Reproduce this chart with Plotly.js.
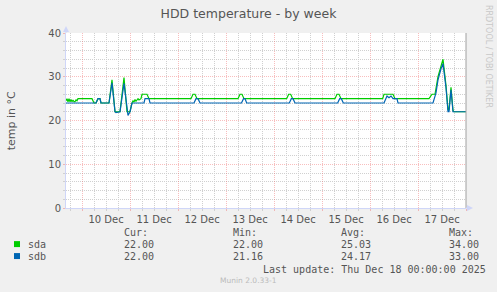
<!DOCTYPE html>
<html>
<head>
<meta charset="utf-8">
<script src="https://cdn.plot.ly/plotly-3.0.1.min.js"></script>
<style>
  html, body { margin: 0; padding: 0; background: #F0F0F0; }
  #chart { width: 497px; height: 292px; }
</style>
</head>
<body>
<div id="chart"></div>
<script>
// ---- data ----
const sdaTimes = [
  '2025-12-09 16:00','2025-12-09 16:30','2025-12-09 17:00','2025-12-09 17:30','2025-12-09 18:00',
  '2025-12-09 18:30','2025-12-09 19:00','2025-12-09 19:30','2025-12-09 20:00','2025-12-09 20:30',
  '2025-12-09 21:00','2025-12-09 21:30','2025-12-09 22:00',
  '2025-12-10 05:00','2025-12-10 06:00','2025-12-10 07:00','2025-12-10 08:00','2025-12-10 09:00',
  '2025-12-10 09:30','2025-12-10 13:30','2025-12-10 15:00','2025-12-10 16:30','2025-12-10 19:00',
  '2025-12-10 21:00','2025-12-10 22:30','2025-12-11 00:00','2025-12-11 01:00','2025-12-11 01:30',
  '2025-12-11 02:00','2025-12-11 02:30','2025-12-11 03:00','2025-12-11 04:00','2025-12-11 04:30',
  '2025-12-11 05:30','2025-12-11 06:00','2025-12-11 08:30','2025-12-11 09:30',
  '2025-12-12 06:30','2025-12-12 07:30','2025-12-12 08:30','2025-12-12 09:30',
  '2025-12-13 06:00','2025-12-13 07:00','2025-12-13 08:00','2025-12-13 09:00',
  '2025-12-14 06:20','2025-12-14 07:20','2025-12-14 08:20','2025-12-14 09:20',
  '2025-12-15 06:30','2025-12-15 07:30','2025-12-15 08:30','2025-12-15 09:30',
  '2025-12-16 06:20','2025-12-16 07:00','2025-12-16 11:30','2025-12-16 12:30',
  '2025-12-17 05:30','2025-12-17 07:00','2025-12-17 08:30','2025-12-17 10:00','2025-12-17 11:30',
  '2025-12-17 12:30','2025-12-17 14:00','2025-12-17 15:00','2025-12-17 15:30','2025-12-17 16:30',
  '2025-12-17 17:30','2025-12-17 18:00','2025-12-18 00:00'
];
const sdaValues = [
  24.5, 25, 24.3, 25, 24.3,
  24.8, 24.3, 24.7, 24.3, 24.3,
  24.7, 24.5, 25,
  25, 24, 24, 25, 25,
  24, 24, 29.3, 22, 22,
  29.8, 22, 22, 24, 24.5,
  24.2, 24.8, 24.4, 25, 24.7,
  25, 26, 26, 25,
  25, 26, 26, 25,
  25, 26, 26, 25,
  25, 26, 26, 25,
  25, 26, 26, 25,
  25, 26, 26, 25,
  25, 26, 26, 30, 32.4,
  34, 28, 22.5, 22.5, 27.6,
  22.3, 22, 22
];
const sdbTimes = [
  '2025-12-09 16:00','2025-12-10 07:00','2025-12-10 08:00','2025-12-10 09:00','2025-12-10 09:30',
  '2025-12-10 13:30','2025-12-10 15:00','2025-12-10 16:30','2025-12-10 17:00','2025-12-10 19:00',
  '2025-12-10 21:00','2025-12-10 22:30','2025-12-10 23:00','2025-12-11 00:00','2025-12-11 01:00',
  '2025-12-11 07:00','2025-12-11 07:30','2025-12-11 09:30','2025-12-11 10:00',
  '2025-12-12 08:00','2025-12-12 09:00','2025-12-12 10:00','2025-12-12 11:00',
  '2025-12-13 07:45','2025-12-13 08:45','2025-12-13 09:30','2025-12-13 10:20',
  '2025-12-14 07:40','2025-12-14 08:40','2025-12-14 09:30','2025-12-14 10:30',
  '2025-12-15 07:50','2025-12-15 08:50','2025-12-15 09:40','2025-12-15 10:40',
  '2025-12-16 07:00','2025-12-16 08:30','2025-12-16 09:30','2025-12-16 10:30','2025-12-16 11:30',
  '2025-12-16 13:30','2025-12-16 14:00',
  '2025-12-17 07:30','2025-12-17 09:00','2025-12-17 10:00','2025-12-17 11:30','2025-12-17 12:30',
  '2025-12-17 14:00','2025-12-17 15:00','2025-12-17 15:30','2025-12-17 16:30','2025-12-17 17:30',
  '2025-12-18 00:00'
];
const sdbValues = [
  24, 24, 25, 25, 24,
  24, 28.6, 22, 21.8, 22,
  28.5, 22, 21.16, 22, 24,
  24, 25, 25, 24,
  24, 25, 25, 24,
  24, 25, 25, 24,
  24, 25, 25, 24,
  24, 25, 25, 24,
  24, 25.6, 25.2, 25.6, 25,
  25, 24,
  24, 26.3, 29.3, 31.8, 33,
  27.5, 22, 22, 27, 22,
  22
];
const seriesNames = ['sda', 'sdb'];
const seriesColors = ['#00CC00', '#0066B3'];
const statHeaders = ['Cur:', 'Min:', 'Avg:', 'Max:'];
const statsSda = ['22.00', '22.00', '25.03', '34.00'];
const statsSdb = ['22.00', '21.16', '24.17', '33.00'];
const titleText = 'HDD temperature - by week';
const yTitle = 'temp in °C';
const lastUpdate = 'Last update: Thu Dec 18 00:00:00 2025';
const footer = 'Munin 2.0.33-1';
const watermark = 'RRDTOOL / TOBI OETIKER';

// ---- layout helpers (pixel -> paper) ----
const W = 497, H = 292;
const L = 66, R = 31, T = 33, B = 83.5;
const PW = W - L - R, PH = H - T - B;
const px = x => (x - L) / PW;
const py = y => (H - B - y) / PH;

const traces = [
  {x: sdaTimes, y: sdaValues, name: seriesNames[0], type: 'scatter', mode: 'lines',
   line: {color: seriesColors[0], width: 1.2}, hoverinfo: 'skip'},
  {x: sdbTimes, y: sdbValues, name: seriesNames[1], type: 'scatter', mode: 'lines',
   line: {color: seriesColors[1], width: 1.2}, hoverinfo: 'skip'}
];

const txtFont = {family: 'DejaVu Sans Mono', size: 10, color: '#555555'};
const ann = [];
function addText(text, x, y, opts) {
  ann.push(Object.assign({text: text, x: px(x), y: py(y), xref: 'paper', yref: 'paper',
    showarrow: false, xanchor: 'left', yanchor: 'middle', font: txtFont, borderpad: 0}, opts || {}));
}
const colX = [122.7, 231.7, 340, 447.7];
statHeaders.forEach((h, i) => addText(h, colX[i], 233.3));
statsSda.forEach((v, i) => addText(v, colX[i], 245.3));
statsSdb.forEach((v, i) => addText(v, colX[i], 257.3));
addText(seriesNames[0], 26.7, 245.3);
addText(seriesNames[1], 26.7, 257.3);
addText(lastUpdate, 261.7, 269.7);
addText(footer, 248, 281, {xanchor: 'center', font: {family: 'DejaVu Sans', size: 7.5, color: '#BBBBBB'}});
addText(yTitle, 11, 120.5, {xanchor: 'center', textangle: -90, font: {family: 'DejaVu Sans', size: 11, color: '#555555'}});
addText(watermark, 488, 56, {xanchor: 'center', textangle: 90, font: {family: 'DejaVu Sans', size: 8, color: '#C8C8C8'}});

const shapes = [];
// legend swatches
[[241.7, 0], [253.7, 1]].forEach(([y0, i]) => {
  shapes.push({type: 'rect', xref: 'paper', yref: 'paper', x0: px(14), x1: px(20), y0: py(y0), y1: py(y0 + 6),
    fillcolor: seriesColors[i], line: {width: 0}});
});
// right frame line
shapes.push({type: 'line', xref: 'paper', yref: 'paper', x0: 1, x1: 1, y0: 0, y1: 1,
  line: {color: '#A0A0A0', width: 1}});
// axis arrows
shapes.push({type: 'path', xref: 'paper', yref: 'paper',
  path: `M ${px(63)} ${py(32)} L ${px(69)} ${py(32)} L ${px(66)} ${py(26)} Z`,
  fillcolor: '#CFD6F8', line: {width: 0}});
shapes.push({type: 'line', xref: 'paper', yref: 'paper', x0: 0, x1: 0, y0: 1, y1: py(30),
  line: {color: '#CFD6F8', width: 1}});
shapes.push({type: 'path', xref: 'paper', yref: 'paper',
  path: `M ${px(467)} ${py(205.5)} L ${px(467)} ${py(211.5)} L ${px(473)} ${py(208.5)} Z`,
  fillcolor: '#CFD6F8', line: {width: 0}});
shapes.push({type: 'line', xref: 'paper', yref: 'paper', x0: 1, x1: px(468), y0: 0, y1: 0,
  line: {color: '#CFD6F8', width: 1}});

const majorGrid = 'rgba(240,110,110,0.45)';
const minorGrid = '#D0D0D0';
const layout = {
  width: W, height: H,
  margin: {l: L, r: R, t: T, b: B, pad: 0},
  paper_bgcolor: '#F0F0F0',
  plot_bgcolor: '#FFFFFF',
  showlegend: false,
  font: {family: 'DejaVu Sans', size: 10, color: '#555555'},
  title: {text: titleText, x: 0.5, xref: 'container', xanchor: 'center',
    y: 1 - 14 / H, yref: 'container', yanchor: 'middle',
    font: {family: 'DejaVu Sans', size: 12.5, color: '#555555'}},
  xaxis: {
    type: 'date',
    range: ['2025-12-09 16:00', '2025-12-18 00:00'],
    tick0: '2025-12-10 00:00', dtick: 86400000,
    ticklabelmode: 'period', tickformat: '%-d %b',
    showgrid: true, gridcolor: majorGrid, griddash: '1px,1px', gridwidth: 1,
    ticks: 'outside', ticklen: 2, tickcolor: majorGrid,
    minor: {dtick: 21600000, tick0: '2025-12-10 00:00', showgrid: true, gridcolor: minorGrid,
      griddash: '1px,1px', gridwidth: 1, ticks: 'outside', ticklen: 2, tickcolor: minorGrid},
    showline: true, linecolor: '#CFD6F8', linewidth: 1,
    zeroline: false, fixedrange: true,
    tickfont: {family: 'DejaVu Sans', size: 10, color: '#555555'}
  },
  yaxis: {
    range: [0, 40], tick0: 0, dtick: 10,
    showgrid: true, gridcolor: majorGrid, griddash: '1px,1px', gridwidth: 1,
    ticks: 'outside', ticklen: 2, tickcolor: majorGrid,
    minor: {dtick: 2, showgrid: true, gridcolor: minorGrid, griddash: '1px,1px', gridwidth: 1,
      ticks: 'outside', ticklen: 2, tickcolor: minorGrid},
    showline: true, linecolor: '#CFD6F8', linewidth: 1,
    zeroline: false, fixedrange: true,
    tickfont: {family: 'DejaVu Sans', size: 10, color: '#555555'}
  },
  annotations: ann,
  shapes: shapes
};

Plotly.newPlot('chart', traces, layout, {staticPlot: true, displayModeBar: false});
</script>
</body>
</html>
